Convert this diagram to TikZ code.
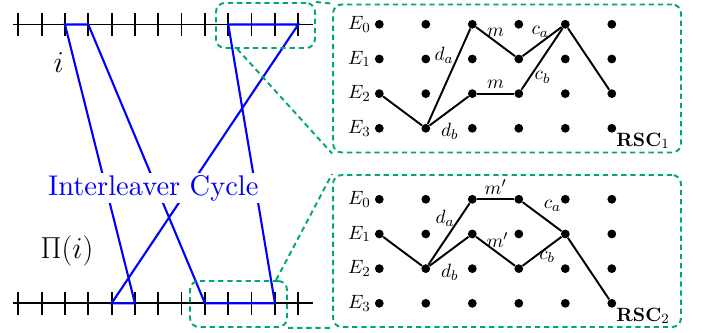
\documentclass[tikz,border=0pt]{standalone}
\usepackage{tikz}
\usetikzlibrary{calc,positioning}
\usepackage{amsmath}

\definecolor{zoomgreen}{RGB}{0,166,120}

\begin{document}
\begin{tikzpicture}[
    x=0.02cm, y=-0.02cm,
    font=\normalsize,
    % Node styles
    dot/.style={circle, fill=black, inner sep=0pt, minimum size=5pt},
    statelbl/.style={left=0pt of #1, inner sep=2pt, font=\fontsize{11}{13}\selectfont},
    edgelbl/.style={inner sep=2.3pt, font=\fontsize{11}{13}\selectfont},
    rsclbl/.style={below right=0pt of #1, inner sep=0.5pt, font=\fontsize{11}{13}\selectfont},
    axis/.style={line width=1pt, draw=black},
    cycleline/.style={line width=1.2pt, draw=blue},
    trans/.style={line width=1.1pt, draw=black},
    zoombox/.style={draw=zoomgreen, line width=1.1pt, dash pattern=on 3pt off 2.2pt, rounded corners=5pt, inner sep=0pt},
    zoomline/.style={draw=zoomgreen, line width=1.1pt, dash pattern=on 3pt off 2.2pt},
]

    \useasboundingbox (0,0) rectangle (702,333);

    % Define ticks of both time axes
    \foreach \k in {1,...,13} {
        \coordinate (t\k) at ({18.3+23.33*(\k-1)},24.5);
        \coordinate (b\k) at ({18.3+23.33*(\k-1)},303.3);
    }

    % Draw axes
    \draw[axis] ($(t1)+(-5.3,0)$) -- ($(t13)+(14.7,0)$);
    \draw[axis] ($(b1)+(-5.3,0)$) -- ($(b13)+(14.7,0)$);
    \foreach \k in {1,...,13} {
        \draw[axis] ($(t\k)+(0,-11.5)$) -- ($(t\k)+(0,11.5)$);
        \draw[axis] ($(b\k)+(0,-11.5)$) -- ($(b\k)+(0,11.5)$);
    }

    % Interleaver cycle
    \draw[cycleline] (t3) -- (t4) -- (b9) -- (b12) -- (t10) -- (t13) -- (b5) -- (b6) -- cycle;

    \node[font=\fontsize{17}{20}\selectfont] (idx) at (58.7,62.3) {$i$};
    \node[font=\fontsize{16}{19}\selectfont] (perm) at (67,250.7) {$\Pi(i)$};
    \node[text=blue, fill=white, inner sep=1pt] (cyc) at (153.3,188) {\scalebox{1.62}{Interleaver Cycle}};

    % Zoom boxes
    \node[zoombox, minimum width=1.98cm, minimum height=0.9cm] (spyA) at (265.5,25.5) {};
    \node[zoombox, minimum width=1.94cm, minimum height=0.92cm] (spyB) at (238.5,304) {};
    \node[zoombox, minimum width=6.96cm, minimum height=2.96cm] (rscA) at (507,78.5) {};
    \node[zoombox, minimum width=6.96cm, minimum height=3.04cm] (rscB) at (507,251) {};

    \draw[zoomline] (spyA.north east) -- (rscA.north west);
    \draw[zoomline] ($(spyA.south west)!.22!(spyA.south east)$) -- (rscA.south west);
    \draw[zoomline] ($(spyB.north west)!.88!(spyB.north east)$) -- (rscB.north west);
    \draw[zoomline] (spyB.south east) -- (rscB.south west);

    % Trellis states
    \foreach \c in {1,...,6} {
        \foreach \r in {0,...,3} {
            \node[dot] (p\c-\r) at ({379.3+46.5*(\c-1)},{24.3+34.67*\r}) {};
            \node[dot] (q\c-\r) at ({379.3+46.5*(\c-1)},{199.3+34.67*\r}) {};
        }
    }
    \foreach \r in {0,...,3} {
        \node[statelbl=p1-\r] (pe\r) {$E_\r$};
        \node[statelbl=q1-\r] (qe\r) {$E_\r$};
    }

    % RSC 1 paths
    \draw[trans] (p1-2) -- (p2-3);
    \draw[trans] (p2-3) -- node[edgelbl, pos=.72, left] (pda) {$d_a$} (p3-0);
    \draw[trans] (p2-3) -- node[edgelbl, pos=.2, below right=-1pt] (pdb) {$d_b$} (p3-2);
    \draw[trans] (p3-0) -- node[edgelbl, pos=.5, above] (pma) {$m$} (p4-1);
    \draw[trans] (p3-2) -- node[edgelbl, midway, above] (pmb) {$m$} (p4-2);
    \draw[trans] (p4-1) -- node[edgelbl, pos=.45, above=0.5pt] (pca) {$c_a$} (p5-0);
    \draw[trans] (p4-2) -- node[edgelbl, pos=.2, right] (pcb) {$c_b$} (p5-0);
    \draw[trans] (p5-0) -- (p6-2);
    \node[rsclbl=p6-3] (rscAlbl) {$\mathbf{RSC}_1$};

    % RSC 2 paths
    \draw[trans] (q1-1) -- (q2-2);
    \draw[trans] (q2-2) -- node[edgelbl, pos=.75, left] (qda) {$d_a$} (q3-0);
    \draw[trans] (q2-2) -- node[edgelbl, pos=.2, below right=-1pt] (qdb) {$d_b$} (q3-1);
    \draw[trans] (q3-0) -- node[edgelbl, midway, above] (qma) {$m'$} (q4-0);
    \draw[trans] (q3-1) -- node[edgelbl, pos=.55, above] (qmb) {$m'$} (q4-2);
    \draw[trans] (q4-0) -- node[edgelbl, pos=.45, above right=-1pt] (qca) {$c_a$} (q5-1);
    \draw[trans] (q4-2) -- node[edgelbl, pos=.3, right] (qcb) {$c_b$} (q5-1);
    \draw[trans] (q5-1) -- (q6-3);
    \node[rsclbl=q6-3] (rscBlbl) {$\mathbf{RSC}_2$};

\end{tikzpicture}
\end{document}
